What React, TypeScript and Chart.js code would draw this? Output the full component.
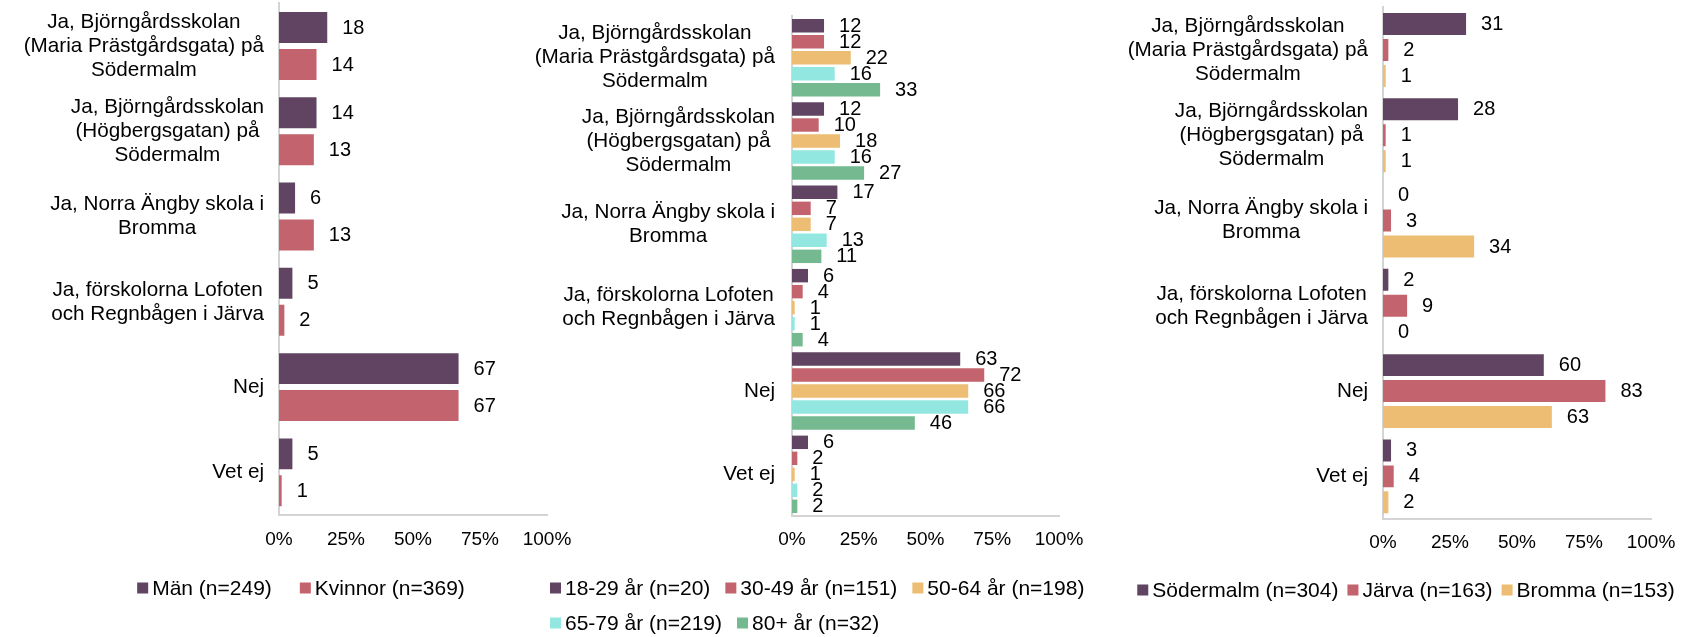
import React, { useEffect, useRef } from 'react';
import { Chart, registerables } from 'chart.js';

Chart.register(...registerables);

// ---------- data ----------
const categories = [
  ['Ja, Björngårdsskolan', '(Maria Prästgårdsgata) på', 'Södermalm'],
  ['Ja, Björngårdsskolan', '(Högbergsgatan) på', 'Södermalm'],
  ['Ja, Norra Ängby skola i', 'Bromma'],
  ['Ja, förskolorna Lofoten', 'och Regnbågen i Järva'],
  ['Nej'],
  ['Vet ej'],
];
const xTickLabels = ['0%', '25%', '50%', '75%', '100%'];

const genderLabels = ['Män (n=249)', 'Kvinnor (n=369)'];
const manValues = [18, 14, 6, 5, 67, 5];
const kvinnorValues = [14, 13, 13, 2, 67, 1];

const ageLabels = ['18-29 år (n=20)', '30-49 år (n=151)', '50-64 år (n=198)', '65-79 år (n=219)', '80+ år (n=32)'];
const age1829 = [12, 12, 17, 6, 63, 6];
const age3049 = [12, 10, 7, 4, 72, 2];
const age5064 = [22, 18, 7, 1, 66, 1];
const age6579 = [16, 16, 13, 1, 66, 2];
const age80 = [33, 27, 11, 4, 46, 2];

const areaLabels = ['Södermalm (n=304)', 'Järva (n=163)', 'Bromma (n=153)'];
const sodermalm = [31, 28, 0, 2, 60, 3];
const jarva = [2, 1, 3, 9, 83, 4];
const bromma = [1, 1, 34, 0, 63, 2];

// ---------- styles ----------
const palette = ['#614462', '#c3636d', '#edbd73', '#93e7e1', '#75b990'];
const FONT = '"Liberation Sans", Arial, sans-serif';
const W = 1688;
const H = 637;
const Y_W = 10;
const X_H = 40;

const customPlugin = {
  id: 'customDraw',
  afterDraw(chart: any, _args: any, opts: any) {
    const ctx = chart.ctx;
    const yScale = chart.scales.y;
    const area = chart.chartArea;
    ctx.save();
    ctx.fillStyle = '#000';
    ctx.textBaseline = 'middle';
    // category labels: block right-aligned, lines centered
    ctx.font = `${opts.catFont}px ${FONT}`;
    ctx.textAlign = 'center';
    (chart.data.labels as any[]).forEach((lab, i) => {
      const lines = Array.isArray(lab) ? lab : [lab];
      const w = Math.max(...lines.map((l: string) => ctx.measureText(l).width));
      const cx = area.left - opts.catGap - w / 2;
      const cy = yScale.getPixelForValue(i);
      lines.forEach((l: string, j: number) => {
        ctx.fillText(l, cx, cy + (j - (lines.length - 1) / 2) * opts.lineHeight);
      });
    });
    // value labels
    ctx.font = `${opts.valFont}px ${FONT}`;
    ctx.textAlign = 'left';
    chart.data.datasets.forEach((ds: any, di: number) => {
      const meta = chart.getDatasetMeta(di);
      meta.data.forEach((el: any, i: number) => {
        ctx.fillText(String(ds.data[i]), el.x + opts.valGap, el.y + opts.valDy);
      });
    });
    // legend
    const L = opts.legend;
    ctx.font = `${L.font}px ${FONT}`;
    L.rows.forEach((row: number[], r: number) => {
      const items = row.map((di) => {
        const ds = chart.data.datasets[di];
        return { text: ds.label, color: ds.backgroundColor, w: ctx.measureText(ds.label).width };
      });
      const total = items.reduce((s, it) => s + L.box + L.textGap + it.w, 0) + L.itemGap * (items.length - 1);
      let x = L.align === 'center' ? L.x - total / 2 : L.x;
      const yy = L.y + r * L.rowGap;
      items.forEach((it) => {
        ctx.fillStyle = it.color;
        ctx.fillRect(x, yy - L.box / 2, L.box, L.box);
        ctx.fillStyle = '#000';
        ctx.fillText(it.text, x + L.box + L.textGap, yy + 1);
        x += L.box + L.textGap + it.w + L.itemGap;
      });
    });
    ctx.restore();
  },
};

type PanelCfg = {
  labels: string[];
  series: number[][];
  area: { left: number; right: number; top: number; bottom: number };
  catPct: number;
  barPct: number;
  tickPad: number;
  catGap: number;
  valFont: number;
  legend: any;
};

function Panel({ cfg }: { cfg: PanelCfg }) {
  const ref = useRef<HTMLCanvasElement | null>(null);
  useEffect(() => {
    if (!ref.current) return;
    const a = cfg.area;
    const chart = new Chart(ref.current, {
      type: 'bar',
      data: {
        labels: categories,
        datasets: cfg.series.map((d, i) => ({
          label: cfg.labels[i],
          data: d,
          backgroundColor: palette[i],
          borderWidth: 0,
          categoryPercentage: cfg.catPct,
          barPercentage: cfg.barPct,
        })),
      },
      options: {
        indexAxis: 'y',
        responsive: false,
        animation: false,
        events: [],
        layout: {
          padding: {
            left: a.left - Y_W,
            right: W - a.right,
            top: a.top,
            bottom: H - a.bottom - X_H,
          },
        },
        plugins: {
          legend: { display: false },
          tooltip: { enabled: false },
          customDraw: {
            catFont: 20.7,
            lineHeight: 24,
            catGap: cfg.catGap,
            valFont: cfg.valFont,
            valGap: 15,
            valDy: 0.5,
            legend: cfg.legend,
          },
        } as any,
        scales: {
          x: {
            type: 'linear',
            min: 0,
            max: 100,
            ticks: {
              stepSize: 25,
              padding: cfg.tickPad,
              color: '#000',
              font: { family: FONT, size: 19 },
              callback: (_v: any, i: number) => xTickLabels[i],
            },
            grid: { display: false, drawTicks: false },
            border: { display: true, color: '#d4d4d4', width: 2 },
            afterFit: (s: any) => {
              s.height = X_H;
            },
          },
          y: {
            type: 'category',
            ticks: { display: false },
            grid: { display: false, drawTicks: false },
            border: { display: true, color: '#d4d4d4', width: 2 },
            afterFit: (s: any) => {
              s.width = Y_W;
            },
          },
        },
      },
      plugins: [customPlugin],
    } as any);
    return () => chart.destroy();
  }, []);
  return (
    <canvas
      ref={ref}
      width={W}
      height={H}
      style={{ position: 'absolute', left: 0, top: 0, width: W, height: H }}
    />
  );
}

const panels: PanelCfg[] = [
  {
    labels: genderLabels,
    series: [manValues, kvinnorValues],
    area: { left: 279, right: 547, top: 3.4, bottom: 515 },
    catPct: 0.867,
    barPct: 0.838,
    tickPad: 13,
    catGap: 15,
    valFont: 20,
    legend: { align: 'center', x: 301, y: 588, rows: [[0, 1]], rowGap: 35, itemGap: 28, box: 11, textGap: 4, font: 21 },
  },
  {
    labels: ageLabels,
    series: [age1829, age3049, age5064, age6579, age80],
    area: { left: 792, right: 1059, top: 16, bottom: 516 },
    catPct: 0.96,
    barPct: 0.84,
    tickPad: 12,
    catGap: 17,
    valFont: 20,
    legend: { align: 'start', x: 550, y: 588, rows: [[0, 1, 2], [3, 4]], rowGap: 35, itemGap: 15, box: 11, textGap: 4, font: 21 },
  },
  {
    labels: areaLabels,
    series: [sodermalm, jarva, bromma],
    area: { left: 1383, right: 1651, top: 7.4, bottom: 519 },
    catPct: 0.914,
    barPct: 0.846,
    tickPad: 12,
    catGap: 15,
    valFont: 20,
    legend: { align: 'center', x: 1406, y: 590, rows: [[0, 1, 2]], rowGap: 35, itemGap: 9, box: 11, textGap: 4, font: 21 },
  },
];

export default function App() {
  return (
    <div style={{ position: 'fixed', left: 0, top: 0, width: W, height: H, background: '#fff' }}>
      {panels.map((p, i) => (
        <Panel key={i} cfg={p} />
      ))}
    </div>
  );
}
